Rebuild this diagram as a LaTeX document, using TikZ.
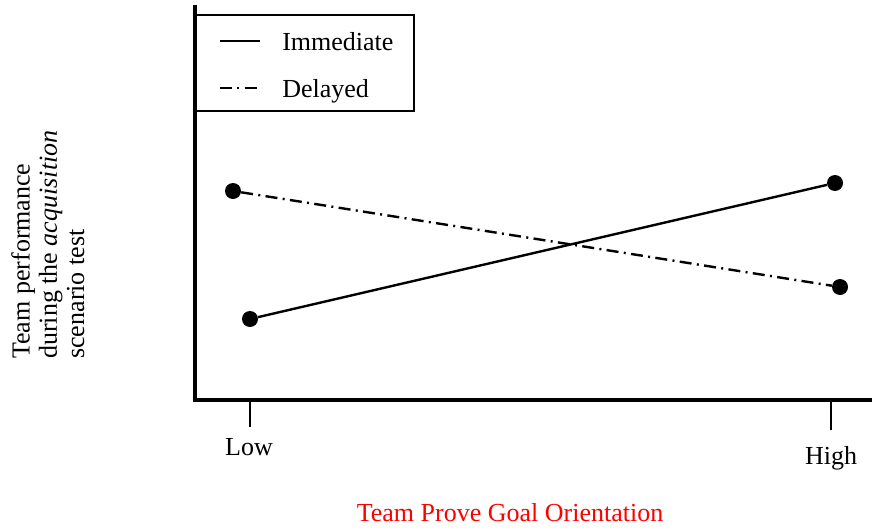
\documentclass[tikz,border=0pt]{standalone}
\usepackage{fontspec}
\setmainfont{Liberation Serif}

\begin{document}
\begin{tikzpicture}[x=0.75pt,y=0.75pt,yscale=-1,xscale=1,
  dot/.style={circle,fill=black,inner sep=0pt,minimum size=12pt},
  lbl/.style={font=\fontsize{19.5}{20.5}\selectfont,inner sep=0.75pt},
  dashdot/.style={dash pattern=on 9pt off 4pt on 1.5pt off 4pt}]
\path [use as bounding box] (0,0) rectangle (872,532);

%Shape: Rectangle [id:legend]
\draw [line width=1pt] (195,15) rectangle (414,111);
%Straight Lines [id:legendsolid]
\draw [line width=1.5pt] (220,41) -- (260,41);
%Straight Lines [id:legenddash]
\draw [line width=1.5pt,dashdot] (220,88) -- (260,88);

%Shape: Axis [id:axes]
\draw [line width=3pt] (195,5) -- (195,400) -- (872,400);
%Straight Lines [id:ticklow]
\draw [line width=1.5pt] (250,400) -- (250,427);
%Straight Lines [id:tickhigh]
\draw [line width=1.5pt] (831,400) -- (831,430);

% Data points
\node [dot] (delLow) at (233,191) {};
\node [dot] (immLow) at (250,319) {};
\node [dot] (immHigh) at (835,183) {};
\node [dot] (delHigh) at (840,287) {};
\draw [line width=1.8pt] (immLow) -- (immHigh);
\draw [line width=1.8pt,dashdot] (delLow) -- (delHigh);

% Text Node
\node [lbl,anchor=base west] (immText) at (281,50) {Immediate};
% Text Node
\node [lbl,anchor=base west] (delText) at (281,97) {Delayed};
% Text Node
\node [lbl,anchor=base] (lowText) at (249,455) {Low};
% Text Node
\node [lbl,anchor=base] (highText) at (831,464) {High};
% Text Node
\node [lbl,anchor=base,text=red] (xTitle) at (510,521) {Team Prove Goal Orientation};
% Text Node
\node [lbl,rotate=90,align=left,anchor=north west] (yTitle) at (10,360)
  {Team performance\\during the \textit{acquisition}\\scenario test};

\end{tikzpicture}
\end{document}
